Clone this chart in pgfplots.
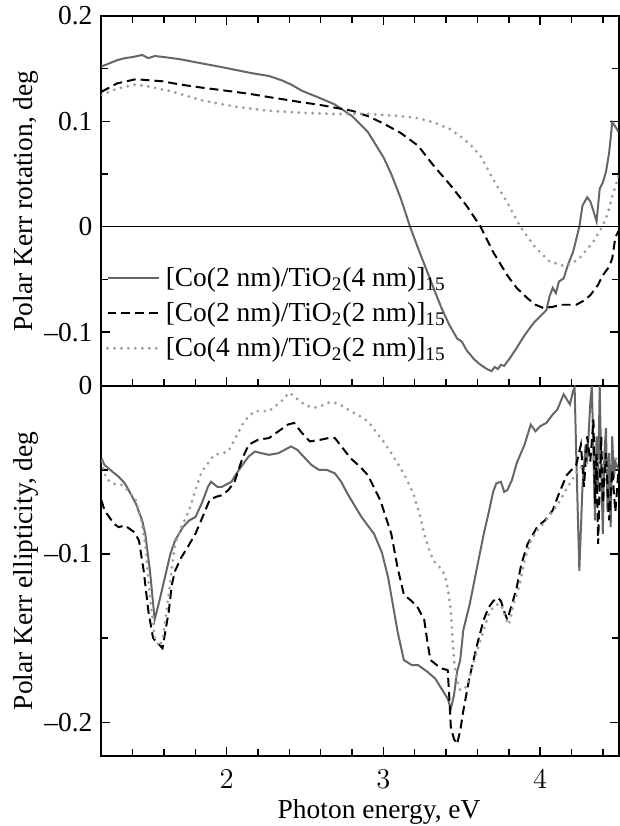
\documentclass[border=0pt]{standalone}
\usepackage{pgfplots}
\pgfplotsset{compat=1.18}
\usepackage{fontspec}
\setmainfont{Liberation Serif}
\definecolor{cA}{gray}{0.40}
\definecolor{cC}{gray}{0.62}

\pgfplotstableread{
x y
1.20 0.152
1.25 0.155
1.30 0.158
1.35 0.160
1.40 0.161
1.46 0.163
1.50 0.160
1.54 0.162
1.60 0.161
1.70 0.159
1.84 0.155
1.95 0.152
2.05 0.149
2.15 0.146
2.27 0.143
2.35 0.139
2.41 0.135
2.48 0.129
2.58 0.123
2.69 0.116
2.80 0.105
2.90 0.090
3.00 0.066
3.05 0.050
3.11 0.027
3.17 0.000
3.22 -0.020
3.28 -0.043
3.33 -0.062
3.37 -0.077
3.42 -0.093
3.47 -0.106
3.50 -0.109
3.53 -0.117
3.58 -0.126
3.62 -0.131
3.66 -0.135
3.69 -0.137
3.71 -0.133
3.73 -0.135
3.75 -0.131
3.77 -0.132
3.81 -0.124
3.85 -0.115
3.90 -0.103
3.96 -0.091
4.00 -0.085
4.04 -0.079
4.06 -0.066
4.08 -0.058
4.10 -0.063
4.12 -0.052
4.15 -0.049
4.18 -0.035
4.21 -0.024
4.23 -0.012
4.25 0.000
4.27 0.020
4.30 0.028
4.32 0.024
4.34 0.015
4.36 0.005
4.38 0.036
4.40 0.042
4.42 0.052
4.44 0.070
4.46 0.099
4.48 0.095
4.50 0.090
}\topA

\pgfplotstableread{
x y
1.20 0.128
1.25 0.132
1.30 0.136
1.42 0.140
1.50 0.139
1.59 0.138
1.70 0.135
1.84 0.132
2.00 0.129
2.15 0.126
2.27 0.123
2.40 0.120
2.48 0.118
2.58 0.116
2.69 0.113
2.80 0.110
2.90 0.105
3.00 0.098
3.11 0.089
3.22 0.077
3.32 0.058
3.43 0.039
3.53 0.020
3.62 0.000
3.70 -0.024
3.79 -0.046
3.85 -0.058
3.92 -0.068
3.97 -0.074
4.02 -0.077
4.08 -0.076
4.13 -0.074
4.23 -0.074
4.28 -0.070
4.32 -0.065
4.37 -0.055
4.40 -0.046
4.44 -0.038
4.46 -0.030
4.48 -0.010
4.50 -0.004
}\topB

\pgfplotstableread{
x y
1.20 0.125
1.30 0.131
1.42 0.135
1.50 0.133
1.63 0.129
1.75 0.124
1.84 0.120
2.05 0.114
2.27 0.110
2.50 0.108
2.69 0.107
2.90 0.107
3.11 0.105
3.22 0.103
3.32 0.099
3.42 0.093
3.49 0.086
3.56 0.077
3.62 0.067
3.70 0.045
3.79 0.023
3.87 0.001
3.96 -0.018
4.06 -0.033
4.15 -0.037
4.20 -0.035
4.25 -0.030
4.34 -0.014
4.40 0.001
4.43 0.012
4.46 0.029
4.50 0.048
}\topC

\pgfplotstableread{
x y
1.20 -0.043
1.22 -0.047
1.27 -0.051
1.31 -0.054
1.35 -0.058
1.38 -0.063
1.42 -0.070
1.46 -0.080
1.48 -0.088
1.51 -0.110
1.54 -0.139
1.57 -0.128
1.61 -0.112
1.64 -0.100
1.67 -0.092
1.72 -0.084
1.76 -0.080
1.80 -0.078
1.84 -0.070
1.88 -0.060
1.90 -0.057
1.94 -0.060
1.97 -0.060
2.01 -0.058
2.03 -0.057
2.07 -0.051
2.10 -0.047
2.14 -0.042
2.18 -0.039
2.22 -0.040
2.27 -0.041
2.33 -0.040
2.37 -0.038
2.41 -0.036
2.45 -0.038
2.48 -0.041
2.54 -0.047
2.59 -0.050
2.64 -0.050
2.69 -0.052
2.73 -0.057
2.77 -0.064
2.86 -0.078
2.94 -0.088
2.99 -0.099
3.03 -0.114
3.06 -0.130
3.09 -0.146
3.13 -0.163
3.18 -0.166
3.22 -0.166
3.28 -0.170
3.33 -0.174
3.37 -0.180
3.41 -0.186
3.43 -0.192
3.45 -0.184
3.47 -0.170
3.49 -0.163
3.51 -0.145
3.55 -0.130
3.58 -0.116
3.64 -0.088
3.67 -0.076
3.70 -0.063
3.72 -0.058
3.75 -0.057
3.77 -0.063
3.79 -0.062
3.82 -0.056
3.85 -0.046
3.90 -0.035
3.94 -0.023
3.97 -0.027
4.00 -0.024
4.04 -0.022
4.08 -0.017
4.11 -0.014
4.15 -0.005
4.17 -0.008
4.19 -0.011
4.21 -0.003
4.22 -0.001
4.23 -0.040
4.25 -0.110
4.27 -0.060
4.29 -0.035
4.30 -0.045
4.32 -0.010
4.33 0.000
4.35 -0.080
4.36 -0.030
4.37 -0.060
4.38 0.000
4.39 -0.050
4.40 -0.088
4.41 -0.040
4.42 -0.025
4.43 -0.075
4.44 -0.040
4.45 -0.084
4.46 -0.030
4.47 -0.055
4.48 -0.045
4.50 -0.050
}\botA

\pgfplotstableread{
x y
1.20 -0.068
1.22 -0.074
1.25 -0.078
1.28 -0.082
1.31 -0.084
1.35 -0.083
1.38 -0.085
1.41 -0.087
1.44 -0.092
1.47 -0.110
1.50 -0.134
1.53 -0.150
1.56 -0.153
1.59 -0.156
1.61 -0.145
1.63 -0.134
1.65 -0.118
1.67 -0.110
1.71 -0.102
1.75 -0.096
1.80 -0.088
1.85 -0.077
1.89 -0.068
1.93 -0.066
1.97 -0.065
2.01 -0.062
2.05 -0.057
2.10 -0.043
2.14 -0.035
2.20 -0.032
2.27 -0.031
2.33 -0.027
2.39 -0.023
2.43 -0.022
2.48 -0.028
2.53 -0.033
2.60 -0.032
2.65 -0.031
2.69 -0.031
2.74 -0.037
2.79 -0.043
2.85 -0.048
2.90 -0.053
2.98 -0.068
3.05 -0.088
3.09 -0.108
3.13 -0.124
3.18 -0.128
3.22 -0.132
3.26 -0.139
3.28 -0.152
3.30 -0.163
3.34 -0.166
3.37 -0.168
3.41 -0.169
3.42 -0.185
3.43 -0.203
3.45 -0.210
3.47 -0.213
3.49 -0.205
3.51 -0.193
3.55 -0.173
3.60 -0.153
3.64 -0.139
3.67 -0.132
3.70 -0.128
3.73 -0.126
3.75 -0.128
3.77 -0.134
3.79 -0.139
3.82 -0.130
3.85 -0.120
3.88 -0.106
3.92 -0.094
3.98 -0.084
4.03 -0.080
4.08 -0.074
4.12 -0.064
4.17 -0.053
4.23 -0.047
4.26 -0.035
4.28 -0.060
4.30 -0.030
4.32 -0.045
4.34 -0.020
4.35 -0.070
4.36 -0.040
4.37 -0.094
4.38 -0.060
4.39 -0.030
4.40 -0.070
4.42 -0.040
4.44 -0.080
4.46 -0.050
4.48 -0.075
4.50 -0.050
}\botB

\pgfplotstableread{
x y
1.20 -0.045
1.23 -0.055
1.27 -0.058
1.33 -0.059
1.38 -0.063
1.42 -0.068
1.45 -0.078
1.48 -0.094
1.51 -0.125
1.54 -0.150
1.57 -0.155
1.59 -0.151
1.61 -0.138
1.63 -0.124
1.65 -0.108
1.67 -0.094
1.71 -0.084
1.76 -0.074
1.80 -0.062
1.84 -0.051
1.88 -0.046
1.92 -0.041
1.97 -0.040
2.01 -0.039
2.05 -0.032
2.10 -0.023
2.14 -0.018
2.18 -0.015
2.23 -0.015
2.27 -0.015
2.31 -0.012
2.35 -0.009
2.40 -0.004
2.44 -0.007
2.48 -0.010
2.52 -0.012
2.56 -0.013
2.60 -0.012
2.65 -0.010
2.69 -0.010
2.74 -0.012
2.79 -0.015
2.85 -0.018
2.90 -0.021
2.95 -0.027
3.00 -0.033
3.05 -0.040
3.11 -0.049
3.15 -0.056
3.19 -0.064
3.23 -0.076
3.26 -0.088
3.29 -0.097
3.32 -0.104
3.36 -0.108
3.39 -0.112
3.41 -0.120
3.43 -0.134
3.45 -0.163
3.47 -0.175
3.49 -0.181
3.53 -0.179
3.56 -0.170
3.58 -0.163
3.62 -0.151
3.65 -0.142
3.68 -0.134
3.72 -0.130
3.75 -0.130
3.78 -0.138
3.80 -0.142
3.83 -0.130
3.87 -0.118
3.90 -0.104
3.94 -0.092
3.98 -0.086
4.02 -0.082
4.06 -0.077
4.11 -0.071
4.17 -0.061
4.21 -0.055
4.25 -0.049
4.30 -0.046
4.34 -0.043
4.38 -0.045
4.42 -0.050
4.46 -0.044
4.50 -0.043
}\botC

\begin{document}
\begin{tikzpicture}[font=\fontsize{13.8}{16}\selectfont]
\pgfplotsset{
  panel/.style={
    width=260pt, height=186pt, scale only axis,
    xmin=1.2, xmax=4.5,
    xtick={2,3,4},
    minor xtick={1.4,1.6,1.8,2.2,2.4,2.6,2.8,3.2,3.4,3.6,3.8,4.2,4.4},
    tick align=inside,
    major tick length=4.5pt, minor tick length=3.5pt,
    every tick/.style={black, line width=0.7pt},
    axis line style={black, line width=1pt},
    ytick pos=both,
    ylabel style={at={(axis description cs:-0.145,0.5)}, anchor=center, rotate=0, inner sep=7pt},
    yticklabel style={xshift=-1pt},
    legend image code/.code={\draw[#1] (0pt,0pt) -- (26pt,0pt);},
  },
  sA/.style={cA, line width=1pt},
  sB/.style={black, line width=1pt, dash pattern=on 4.5pt off 2.5pt},
  sC/.style={cC, line width=1.6pt, line cap=round, dash pattern=on 0pt off 3.5pt},
}
\begin{axis}[panel, name=top,
  ymin=-0.151, ymax=0.2,
  ytick={-0.1,0,0.1,0.2}, yticklabels={–0.1,0,0.1,0.2},
  minor ytick={-0.05,0.05,0.15},
  xtick pos=both, xticklabels={},
  ylabel={Polar Kerr rotation, deg},
  legend cell align=left,
  legend style={at={(axis description cs:0.008,0.335)}, anchor=north west,
    draw=none, fill=none, row sep=1.5pt, inner sep=0pt,
    nodes={inner sep=2.5pt}},
]
\addplot[sA] table {\topA};
\addlegendentry{[Co(2 nm)/TiO\textsubscript{2}(4 nm)]\textsubscript{15}}
\addplot[sB] table {\topB};
\addlegendentry{[Co(2 nm)/TiO\textsubscript{2}(2 nm)]\textsubscript{15}}
\addplot[sC] table {\topC};
\addlegendentry{[Co(4 nm)/TiO\textsubscript{2}(2 nm)]\textsubscript{15}}
\addplot[black, line width=0.7pt, forget plot] coordinates {(1.2,0) (4.5,0)};
\end{axis}
\begin{axis}[panel, at={(top.south west)}, anchor=north west,
  ymin=-0.22, ymax=0,
  ytick={-0.2,-0.1,0}, yticklabels={–0.2,–0.1,0},
  minor ytick={-0.15,-0.05},
  xtick pos=bottom,
  xticklabel style={yshift=-3.5pt},
  ylabel={Polar Kerr ellipticity, deg},
  xlabel={Photon energy, eV},
  xlabel style={at={(axis description cs:0.537,0)}, anchor=center, yshift=-28pt, inner sep=1pt},
]
\addplot[sA] table {\botA};
\addplot[sB] table {\botB};
\addplot[sC] table {\botC};
\end{axis}
\end{tikzpicture}
\end{document}
